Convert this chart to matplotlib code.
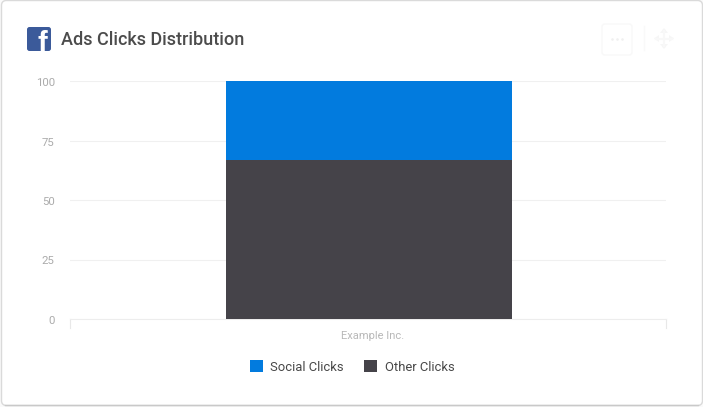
import matplotlib
matplotlib.use("Agg")
import matplotlib.pyplot as plt
from matplotlib.patches import FancyBboxPatch, Rectangle, Circle, Polygon
from matplotlib.transforms import ScaledTranslation

plt.rcParams['font.family'] = ['Roboto', 'DejaVu Sans']

categories = ["Example Inc."]
social_clicks = [33]
other_clicks = [67]
y_ticks = [0, 25, 50, 75, 100]
series_names = ["Social Clicks", "Other Clicks"]
title = "Ads Clicks Distribution"

W, H = 703, 407
BLUE = "#027BDE"
DARK = "#454349"
fig = plt.figure(figsize=(W / 100, H / 100), dpi=100, facecolor="#F2F2F2")

# page overlay in pixel coordinates
bg = fig.add_axes([0, 0, 1, 1], zorder=0)
bg.set_xlim(0, W)
bg.set_ylim(H, 0)
bg.axis("off")
bg.add_patch(Rectangle((0, 0), W, H, fc="#FAFAFA", ec="none"))
bg.add_patch(FancyBboxPatch((6, 5), W - 11, H - 11, boxstyle="round,pad=4.5,rounding_size=5",
                            fc="white", ec="#DADADA", lw=1.0))
bg.plot([5, W - 5], [405, 405], color="#C9C9C9", lw=1)
# facebook icon
bg.add_patch(FancyBboxPatch((28.5, 28.5), 21, 21, boxstyle="round,pad=1.5,rounding_size=2.5",
                            fc="#3B5A9A", ec="none"))
icon_clip = FancyBboxPatch((28.5, 28.5), 21, 21, boxstyle="round,pad=1.5,rounding_size=2.5",
                           fc="none", ec="none", transform=bg.transData)
bg.add_patch(icon_clip)
f = bg.text(42.5, 51.5, "f", color="white", fontsize=21, fontweight="bold", ha="center", va="baseline",
            family="Liberation Sans")
f.set_clip_path(icon_clip)
bg.text(61, 38, title, color="#4C4C4C", fontsize=13, fontweight="medium", va="center_baseline", ha="left")
# faint toolbar
bg.add_patch(FancyBboxPatch((604, 26), 26, 27, boxstyle="round,pad=2,rounding_size=3",
                            fc="white", ec="#F8F8F8", lw=1))
for cx in (612, 617, 622):
    bg.add_patch(Circle((cx + 0.5, 39.5), 1.3, fc="#F0F0F0", ec="none"))
bg.plot([643.5, 643.5], [26, 50], color="#F9F9F9", lw=1)
bg.plot([664, 664], [31, 46], color="#F8F8F8", lw=1.5)
bg.plot([656, 672], [38.5, 38.5], color="#F8F8F8", lw=1.5)
for pts in ([(660, 33), (664, 28), (668, 33)], [(660, 44), (664, 49), (668, 44)],
            [(659, 35), (654, 38.5), (659, 42)], [(669, 35), (674, 38.5), (669, 42)]):
    bg.add_patch(Polygon(pts, fc="#F6F6F6", ec="none"))

# chart
L, R, T, B = 70, 666, 81, 319
ax = fig.add_axes([L / W, 1 - B / H, (R - L) / W, (B - T) / H], zorder=2, facecolor="none")
x = range(len(categories))
ax.bar(x, other_clicks, width=0.48, color=DARK, zorder=3, label=series_names[1])
ax.bar(x, social_clicks, width=0.48, bottom=other_clicks, color=BLUE, zorder=3, label=series_names[0])
ax.set_xlim(-0.5017, 0.4983)
ax.set_ylim(0, 100)
ax.set_yticks(y_ticks)
ax.set_xticks(list(x), categories)
ax.yaxis.grid(True, color="#F0F0F0", lw=0.8, zorder=0)
ax.set_axisbelow(True)
for s in ("top", "left", "right"):
    ax.spines[s].set_visible(False)
ax.spines["bottom"].set_color("#EDEDED")
ax.spines["bottom"].set_linewidth(0.8)
ax.tick_params(axis="y", length=0, labelsize=8.2, labelcolor="#ABABAB", pad=11)
ax.tick_params(axis="x", length=0, labelsize=8, labelcolor="#B8B8B8", pad=8.5)
for lab in ax.get_xticklabels():
    lab.set_transform(lab.get_transform() + ScaledTranslation(3.5 / 100, 0, fig.dpi_scale_trans))
for lab in ax.get_yticklabels():
    lab.set_transform(lab.get_transform() + ScaledTranslation(0, -1 / 100, fig.dpi_scale_trans))
# end ticks of the category band
for edge in (0, 1):
    ax.plot([edge, edge], [0, -9 / 238], transform=ax.transAxes, color="#E8E8E8", lw=0.8, clip_on=False)

# legend
handles, labels = ax.get_legend_handles_labels()
fig.legend(handles[::-1], labels[::-1], loc="center", bbox_to_anchor=(352 / W, 1 - 367 / H), ncol=2,
           frameon=False, fontsize=9.4, labelcolor="#484848", handlelength=1.0, handleheight=1.0,
           handletextpad=0.55, columnspacing=1.6)

fig.savefig("out.png", dpi=100, facecolor=fig.get_facecolor())
